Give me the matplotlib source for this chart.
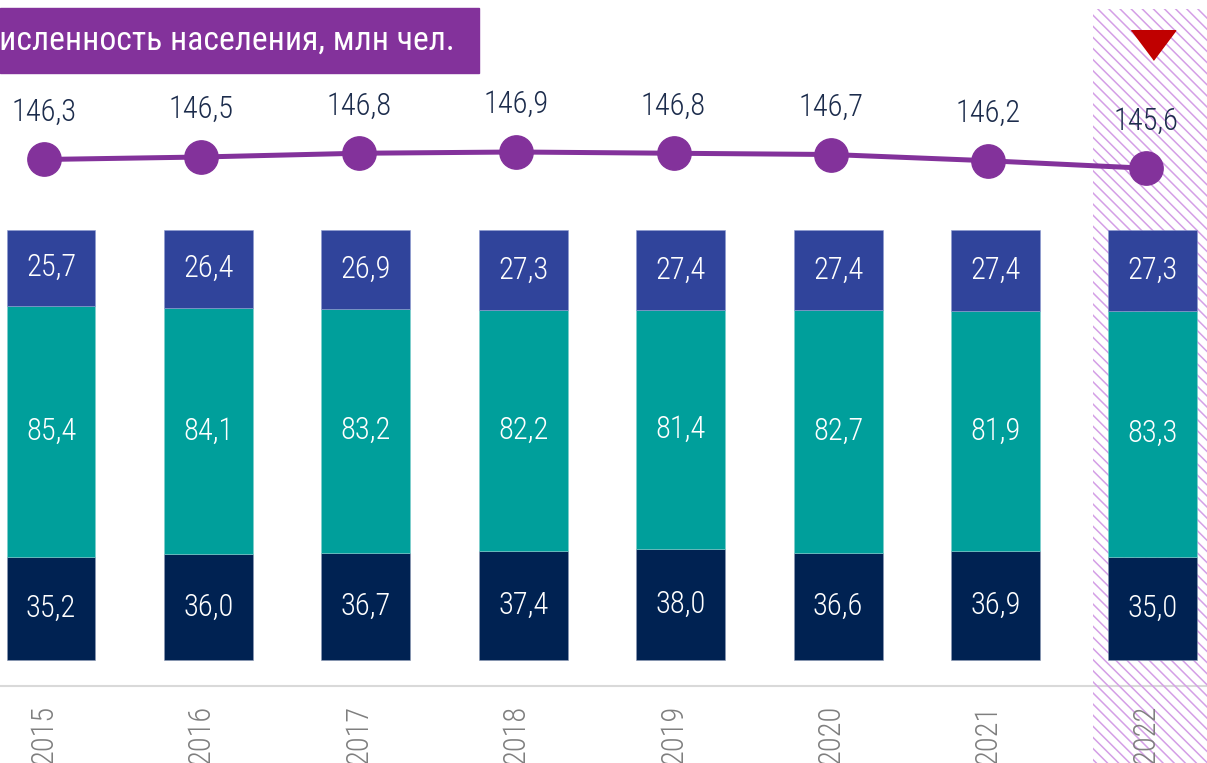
import matplotlib
matplotlib.use('Agg')
import matplotlib.pyplot as plt
import numpy as np
from matplotlib import font_manager
from matplotlib.patches import Rectangle

# data (млн чел.)
years = ['2015', '2016', '2017', '2018', '2019', '2020', '2021', '2022']
total = [146.3, 146.5, 146.8, 146.9, 146.8, 146.7, 146.2, 145.6]
young = [35.2, 36.0, 36.7, 37.4, 38.0, 36.6, 36.9, 35.0]
working = [85.4, 84.1, 83.2, 82.2, 81.4, 82.7, 81.9, 83.3]
older = [25.7, 26.4, 26.9, 27.3, 27.4, 27.4, 27.4, 27.3]

# colours
navy = '#002252'
teal = '#009f9b'
blue = '#30449b'
purple = '#83329b'
red = '#c00000'
dark = '#1c2c4c'
hatch_col = '#d49fe6'

# pick a narrow font if there is one
names = {f.name for f in font_manager.fontManager.ttflist}
font = 'DejaVu Sans'
for cand in ['Roboto Condensed', 'Liberation Sans Narrow', 'Open Sans Condensed']:
    if cand in names:
        font = cand
        break
plt.rcParams['font.family'] = [font, 'DejaVu Sans']
plt.rcParams['font.stretch'] = 'condensed'
plt.rcParams['hatch.linewidth'] = 1.1

def fmt(v):
    return f'{v:.1f}'.replace('.', ',')

fig = plt.figure(figsize=(12.07, 7.63), dpi=100)
ax = fig.add_axes([0, 0, 1, 1])
x = np.arange(len(years))
ax.set_xlim(-0.324, 7.344)
ax.set_ylim(-23.95, 153.5)
ax.axis('off')

# bars as shares of the total so every bar has the same height
y_ = np.array(young)
w_ = np.array(working)
o_ = np.array(older)
s = y_ + w_ + o_
sy, sw, so = y_ / s * 100, w_ / s * 100, o_ / s * 100

bw = 0.565
ax.bar(x, sy, bw, color=navy, edgecolor='#8c9ab5', linewidth=0.4, zorder=3)
ax.bar(x, sw, bw, bottom=sy, color=teal, edgecolor='#7fcfcd', linewidth=0.4, zorder=3)
ax.bar(x, so, bw, bottom=sy + sw, color=blue, edgecolor='#8e9bd0', linewidth=0.4, zorder=3)

lab = dict(color='white', fontsize=22, fontweight='light', ha='center', va='center', zorder=4)
for i in range(len(years)):
    ax.text(x[i], sy[i] / 2, fmt(young[i]), **lab)
    ax.text(x[i], sy[i] + sw[i] / 2, fmt(working[i]), **lab)
    ax.text(x[i], sy[i] + sw[i] + so[i] / 2, fmt(older[i]), **lab)

# highlighted last year
ax.axvspan(6.62, 7.344, ymin=0, ymax=0.988, facecolor='none', edgecolor=hatch_col,
           hatch='\\\\\\', linewidth=0, zorder=1)

# base line
ax.axhline(-6.0, color='#d9d9d9', linewidth=1.5, zorder=0)

# year labels
for i in range(len(years)):
    ax.text(x[i] - 0.045, 0.038, years[i], transform=ax.get_xaxis_transform(),
            rotation=90, ha='center', va='center', fontsize=22, fontweight='light',
            color='#7f7f7f')

# total population line
ax2 = ax.twinx()
ax2.set_position([0, 0, 1, 1])
ax2.set_ylim(98.02, 159.06)
ax2.axis('off')
xl = x - 0.045
ax2.plot(xl, total, color=purple, linewidth=3.6, marker='o', markersize=24,
         zorder=5)
for i in range(len(years)):
    ax2.annotate(fmt(total[i]), (xl[i], total[i]), xytext=(0, 34),
                 textcoords='offset points', ha='center', va='center',
                 fontsize=22, fontweight='light', color=dark)

# red "down" indicator
tri = [(-1.5, 1), (1.5, 1), (0, -1)]
ax2.plot([x[-1]], [155.46], marker=tri, markersize=32, color=red, linestyle='none')

# title box
fig.patches.append(Rectangle((0, 1 - 72.7 / 763), 479 / 1207, 64.7 / 763,
                             transform=fig.transFigure, color=purple, zorder=0))
fig.text(455 / 1207, 1 - 41 / 763, 'Численность населения, млн чел.', ha='right',
         va='center', color='white', fontsize=24.2)

fig.savefig('out.png', dpi=100)
